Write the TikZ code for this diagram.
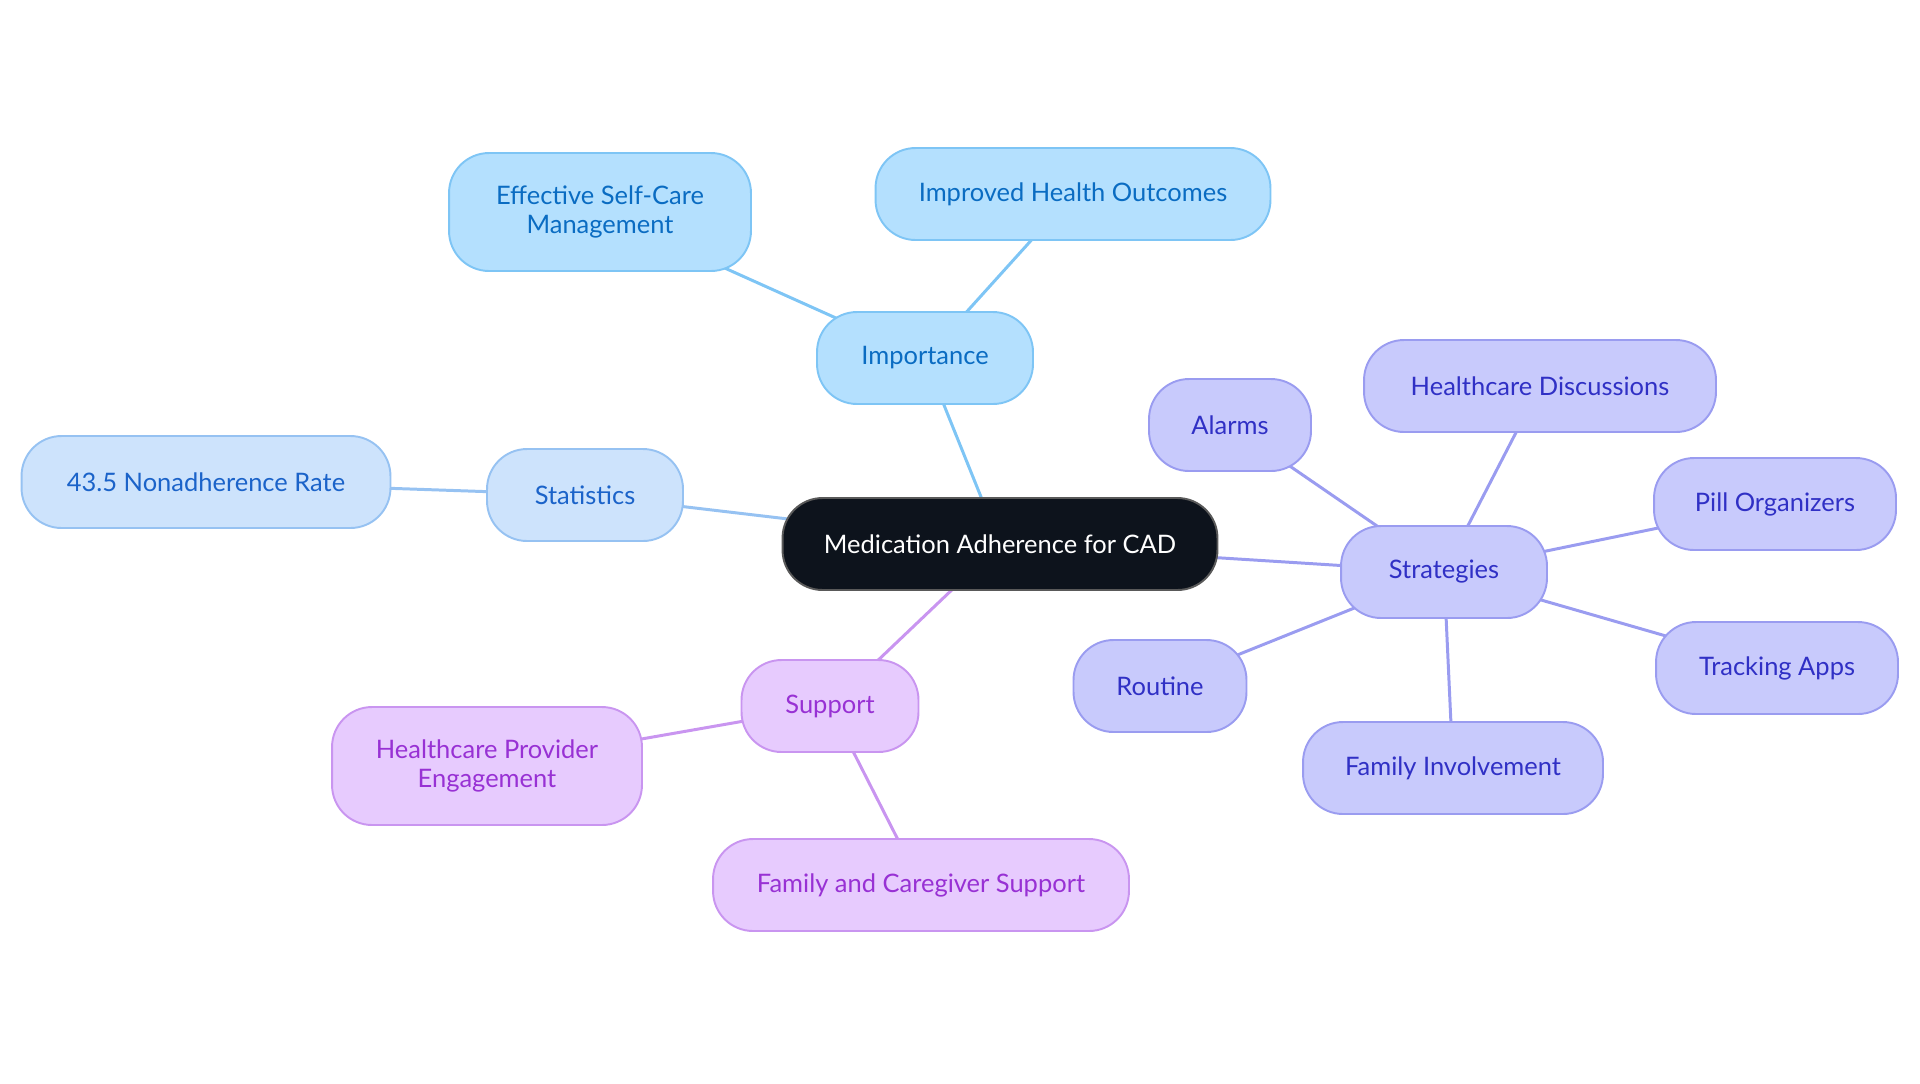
\documentclass[tikz,border=0pt]{standalone}
\usepackage{fontspec}
\setmainfont{Lato}
\usepackage{tikz}
\usetikzlibrary{positioning,backgrounds}
\definecolor{coreblack}{RGB}{13,19,28}
\definecolor{impfill}{RGB}{180,224,254}
\definecolor{impline}{RGB}{126,197,245}
\definecolor{imptext}{RGB}{10,108,194}
\definecolor{statfill}{RGB}{205,227,252}
\definecolor{statline}{RGB}{150,194,242}
\definecolor{stattext}{RGB}{27,99,201}
\definecolor{stratfill}{RGB}{200,202,252}
\definecolor{stratline}{RGB}{154,156,240}
\definecolor{strattext}{RGB}{48,48,197}
\definecolor{suppfill}{RGB}{231,203,254}
\definecolor{suppline}{RGB}{201,149,240}
\definecolor{supptext}{RGB}{152,49,212}

\begin{document}
\begin{tikzpicture}[x=0.02cm, y=-0.02cm,
    pill/.style={rounded corners=0.8cm, minimum height=1.84cm, inner sep=2pt,
        align=center, line width=1.1pt, font=\fontsize{14.5}{16.5}\selectfont},
    corenode/.style={pill, fill=coreblack, draw=gray!70!black, text=white},
    impnode/.style={pill, fill=impfill, draw=impline, text=imptext},
    statnode/.style={pill, fill=statfill, draw=statline, text=stattext},
    stratnode/.style={pill, fill=stratfill, draw=stratline, text=strattext},
    suppnode/.style={pill, fill=suppfill, draw=suppline, text=supptext},
    link/.style={line width=1.7pt}]
    \useasboundingbox (0,0) rectangle (1920,1083);

    % Centre
    \node[corenode, minimum width=8.7cm] (core) at (1000,544) {Medication Adherence for CAD};

    % Importance branch
    \node[impnode, minimum width=4.32cm] (imp) at (925,358) {Importance};
    \node[impnode, minimum width=6.04cm, minimum height=2.36cm] (selfcare) at (600,212) {Effective Self-Care\\Management};
    \node[impnode, minimum width=7.9cm] (outcomes) at (1073,194) {Improved Health Outcomes};

    % Statistics branch
    \node[statnode, minimum width=3.92cm] (stat) at (585,495) {Statistics};
    \node[statnode, minimum width=7.38cm] (rate) at (206,482) {43.5 Nonadherence Rate};

    % Support branch
    \node[suppnode, minimum width=3.54cm] (supp) at (830,706) {Support};
    \node[suppnode, minimum width=6.2cm, minimum height=2.36cm] (provider) at (487,766) {Healthcare Provider\\Engagement};
    \node[suppnode, minimum width=8.32cm] (caregiver) at (921,885) {Family and Caregiver Support};

    % Strategies branch
    \node[stratnode, minimum width=4.12cm] (strat) at (1444,572) {Strategies};
    \node[stratnode, minimum width=3.24cm] (alarms) at (1230,425) {Alarms};
    \node[stratnode, minimum width=7.04cm] (discuss) at (1540,386) {Healthcare Discussions};
    \node[stratnode, minimum width=4.84cm] (pills) at (1775,504) {Pill Organizers};
    \node[stratnode, minimum width=4.84cm] (apps) at (1777,668) {Tracking Apps};
    \node[stratnode, minimum width=3.46cm] (routine) at (1160,686) {Routine};
    \node[stratnode, minimum width=6.0cm] (family) at (1453,768) {Family Involvement};

    % Connectors, behind the nodes
    \begin{pgfonlayer}{background}
        \draw[link, impline] (core.center) -- (imp.center);
        \draw[link, impline] (imp.center) -- (selfcare.center);
        \draw[link, impline] (imp.center) -- (outcomes.center);
        \draw[link, statline] (core.center) -- (stat.center);
        \draw[link, statline] (stat.center) -- (rate.center);
        \draw[link, suppline] (core.center) -- (supp.center);
        \draw[link, suppline] (supp.center) -- (provider.center);
        \draw[link, suppline] (supp.center) -- (caregiver.center);
        \draw[link, stratline] (core.center) -- (strat.center);
        \foreach \leaf in {alarms, discuss, pills, apps, routine, family}
            \draw[link, stratline] (strat.center) -- (\leaf.center);
    \end{pgfonlayer}
\end{tikzpicture}
\end{document}
